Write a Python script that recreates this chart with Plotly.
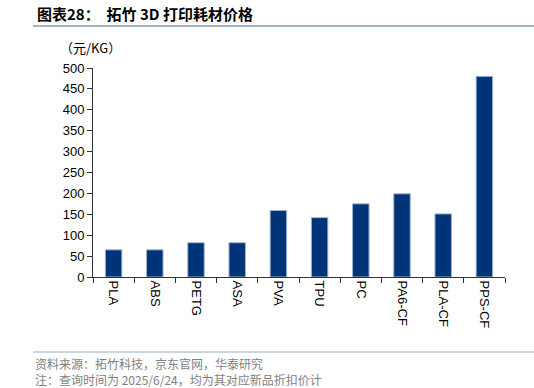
import plotly.graph_objects as go

categories = ["PLA", "ABS", "PETG", "ASA", "PVA", "TPU", "PC", "PA6-CF", "PLA-CF", "PPS-CF"]
prices = [65, 65, 82, 82, 159, 142, 175, 199, 151, 480]
y_ticks = [0, 50, 100, 150, 200, 250, 300, 350, 400, 450, 500]

title_text = "<b>图表28：  拓竹 3D 打印耗材价格</b>"
unit_text = "（元/KG）"
source_text = "资料来源：拓竹科技，京东官网，华泰研究"
note_text = "注：查询时间为 2025/6/24，均为其对应新品折扣价计"

W, H = 534, 388
L, R, T, B = 93, 29, 68, 111

fig = go.Figure()
fig.add_trace(go.Bar(
    x=categories, y=prices,
    marker=dict(color="#003478", line=dict(color="#9fb3d1", width=1)),
    width=0.4,
))

axis_font = dict(family="Liberation Sans, Arial, sans-serif", size=13, color="#000000")

fig.update_layout(
    width=W, height=H,
    margin=dict(l=L, r=R, t=T, b=B),
    paper_bgcolor="white", plot_bgcolor="white",
    showlegend=False,
    bargap=0.6,
    xaxis=dict(
        type="category",
        tickangle=90,
        tickfont=axis_font,
        showline=True, linecolor="#333333", linewidth=1,
        ticks="outside", ticklen=5, tickcolor="#333333",
        tickson="boundaries",
        showgrid=False, zeroline=False,
    ),
    yaxis=dict(
        range=[0, 500],
        tickvals=y_ticks,
        tickfont=axis_font,
        showline=True, linecolor="#333333", linewidth=1,
        ticks="outside", ticklen=5, tickcolor="#333333",
        showgrid=False, zeroline=False,
    ),
    shapes=[
        dict(type="line", xref="paper", yref="paper",
             x0=(33 - L) / (W - L - R), x1=(W - L) / (W - L - R),
             y0=(H - B - 26) / (H - T - B), y1=(H - B - 26) / (H - T - B),
             line=dict(color="#8497b0", width=1.5)),
        dict(type="line", xref="paper", yref="paper",
             x0=(33 - L) / (W - L - R), x1=(W - L) / (W - L - R),
             y0=(H - B - 352) / (H - T - B), y1=(H - B - 352) / (H - T - B),
             line=dict(color="#b8c7d9", width=1.5)),
    ],
    annotations=[
        dict(text=title_text, xref="paper", yref="paper",
             x=(35 - L) / (W - L - R), y=(H - B - 13) / (H - T - B),
             xanchor="left", yanchor="middle", showarrow=False,
             font=dict(family="Noto Sans CJK SC", size=15, color="#000000")),
        dict(text=unit_text, xref="paper", yref="paper",
             x=(58 - L) / (W - L - R), y=(H - B - 47) / (H - T - B),
             xanchor="left", yanchor="middle", showarrow=False,
             font=dict(family="Noto Sans CJK SC, Liberation Sans", size=13, color="#000000")),
        dict(text=source_text, xref="paper", yref="paper",
             x=(33 - L) / (W - L - R), y=(H - B - 363) / (H - T - B),
             xanchor="left", yanchor="middle", showarrow=False,
             font=dict(family="Noto Sans CJK SC", size=12, color="#7f7f7f")),
        dict(text=note_text, xref="paper", yref="paper",
             x=(33 - L) / (W - L - R), y=(H - B - 379) / (H - T - B),
             xanchor="left", yanchor="middle", showarrow=False,
             font=dict(family="Noto Sans CJK SC", size=12, color="#7f7f7f")),
    ],
)

fig.write_html("out.html")
